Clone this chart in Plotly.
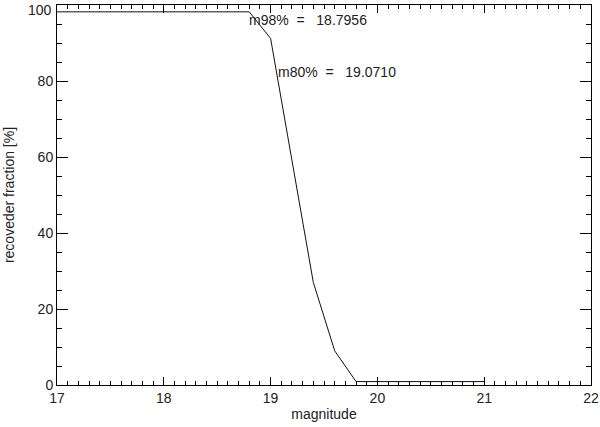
import plotly.graph_objects as go

magnitude = [17.0, 17.2, 17.4, 17.6, 17.8, 18.0, 18.2, 18.4, 18.6, 18.8,
             19.0, 19.2, 19.4, 19.6, 19.8, 20.0, 20.2, 20.4, 20.6, 20.8, 21.0]
fraction = [98.2, 98.2, 98.2, 98.2, 98.2, 98.2, 98.2, 98.2, 98.2, 98.2,
            91.2, 59.5, 27.0, 9.0, 0.9, 0.9, 0.9, 0.9, 0.9, 0.9, 0.9]

x_ticks = [17, 18, 19, 20, 21, 22]
y_ticks = [0, 20, 40, 60, 80]
y_top_tick = 100

m98_value = 18.7956
m80_value = 19.0710
m98_label = "m98%\u00a0\u00a0=\u00a0\u00a0\u00a018.7956"
m80_label = "m80%\u00a0\u00a0=\u00a0\u00a0\u00a019.0710"

FONT = "Liberation Sans"
TXT = "#222222"

fig = go.Figure()
fig.add_trace(go.Scatter(x=magnitude, y=fraction, mode="lines",
                         line=dict(color="#111111", width=1),
                         showlegend=False, hoverinfo="skip"))

fig.add_annotation(x=m98_value, y=96.0, text=m98_label, showarrow=False,
                   xanchor="left", yanchor="middle", xshift=-2,
                   font=dict(family=FONT, size=14, color=TXT))
fig.add_annotation(x=m80_value, y=82.3, text=m80_label, showarrow=False,
                   xanchor="left", yanchor="middle", xshift=-2,
                   font=dict(family=FONT, size=14, color=TXT))
# top y tick label, drawn slightly below the frame as in the reference
fig.add_annotation(x=0, xref="paper", y=y_top_tick, yref="y", text=str(y_top_tick),
                   showarrow=False, xanchor="right", yanchor="middle",
                   xshift=-3, yshift=-5,
                   font=dict(family=FONT, size=14, color=TXT))

axis_common = dict(showgrid=False, zeroline=False, showline=True,
                   linecolor="black", linewidth=1, mirror="ticks",
                   ticks="inside", tickcolor="black", tickwidth=1,
                   automargin=False, ticklabeloverflow="allow",
                   tickfont=dict(family=FONT, size=14, color=TXT))

fig.update_layout(
    width=600, height=427,
    margin=dict(l=57, r=9, t=5, b=42),
    paper_bgcolor="white", plot_bgcolor="white",
    xaxis=dict(range=[17, 22], tickvals=x_ticks, ticklen=8,
               minor=dict(dtick=0.1, ticklen=4, ticks="inside", tickcolor="black", showgrid=False),
               title=dict(text="magnitude", font=dict(family=FONT, size=14, color=TXT), standoff=4),
               **axis_common),
    yaxis=dict(range=[0, 100], tickvals=y_ticks, ticklen=11,
               minor=dict(dtick=5, ticklen=5, ticks="inside", tickcolor="black", showgrid=False),
               title=dict(text="recoveder fraction [%]", font=dict(family=FONT, size=14, color=TXT), standoff=19),
               **axis_common),
)

fig.write_html("out.html", config={"displayModeBar": False},
               post_script="document.body.style.margin='0px';")
